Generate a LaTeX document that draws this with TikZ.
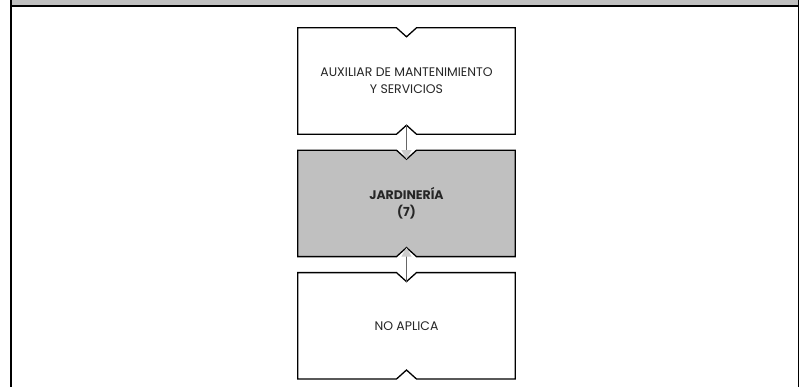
\documentclass[tikz,border=0pt]{standalone}
\usepackage{fontspec}
\setmainfont{Poppins}
\usetikzlibrary{arrows.meta,positioning,calc,backgrounds}

\definecolor{bandgray}{HTML}{C0C0C0}

% outline of a box with a notch top and bottom
\newcommand{\notchbox}[2]{%
  \filldraw[fill=#2, draw=black, line width=1.3bp, line join=miter]
    (#1.north west) -- ($(#1.north)+(-10,0)$) -- ($(#1.north)+(0,9)$)
    -- ($(#1.north)+(10,0)$) -- (#1.north east) -- (#1.south east)
    -- ($(#1.south)+(10,0)$) -- ($(#1.south)+(0,-9)$)
    -- ($(#1.south)+(-10,0)$) -- (#1.south west) -- cycle;}

\begin{document}
\begin{tikzpicture}[x=1bp, y=-1bp, >=Stealth,
  box/.style={minimum width=217bp, minimum height=106bp, inner sep=0pt, align=center, text=black!85, font=\fontsize{12.5}{17}\selectfont},
  flow/.style={draw=black!60, line width=0.9bp, -{Triangle[width=10bp, length=9bp, color=black!20]}},
  node distance=16bp]
\useasboundingbox (0,0) rectangle (799,387);

% frame
\fill[bandgray] (11,0) rectangle (799,5);
\draw[line width=2bp] (10.5,0) -- (10.5,387);
\draw[line width=2bp] (10,6) -- (799,6);
\draw[line width=1bp] (798.5,0) -- (798.5,387);

\node[box] (aux) at (406.5,81) {AUXILIAR DE MANTENIMIENTO\\Y SERVICIOS};
\node[box, below=of aux] (jard) {\textbf{JARDINERÍA}\\\textbf{(7)}};
\node[box, below=of jard] (noaplica) {NO APLICA};

\begin{scope}[on background layer]
\notchbox{aux}{white}
\notchbox{jard}{bandgray}
\notchbox{noaplica}{white}
\end{scope}

\draw[flow] ($(aux.south)+(0,-9)$) -- ($(jard.north)+(0,9)$);
\draw[flow] ($(noaplica.north)+(0,9)$) -- ($(jard.south)+(0,-9)$);
\end{tikzpicture}
\end{document}
